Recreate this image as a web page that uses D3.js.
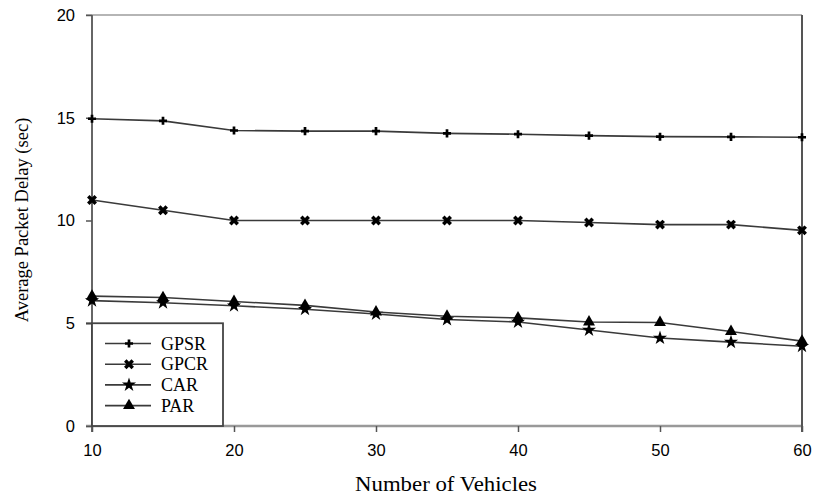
<html>
<head>
<title>Average Packet Delay</title>
<script src="https://d3js.org/d3.v7.min.js"></script>
<style>
body { margin: 0; background: white; }
svg { display: block; }
.tick-label { font-family: "Liberation Sans", Arial, sans-serif; font-size: 16.5px; fill: #000; }
.title { font-family: "Liberation Serif", "Times New Roman", serif; fill: #000; }
</style>
</head>
<body>
<svg id="chart" width="814" height="497"></svg>
<script>
// data
var vehicles = [10, 15, 20, 25, 30, 35, 40, 45, 50, 55, 60];
var gpsr = [14.95, 14.85, 14.38, 14.35, 14.35, 14.24, 14.2, 14.13, 14.08, 14.07, 14.05];
var gpcr = [11.0, 10.5, 10.0, 10.0, 10.0, 10.0, 10.0, 9.9, 9.8, 9.8, 9.52];
var car = [6.1, 6.0, 5.85, 5.68, 5.45, 5.18, 5.06, 4.67, 4.28, 4.08, 3.88];
var par = [6.32, 6.25, 6.06, 5.87, 5.55, 5.34, 5.26, 5.06, 5.04, 4.6, 4.13];
var seriesNames = ["GPSR", "GPCR", "CAR", "PAR"];
var xTicks = [10, 20, 30, 40, 50, 60];
var yTicks = [0, 5, 10, 15, 20];

var allSeries = [gpsr, gpcr, car, par];
var symbols = [
  { type: d3.symbolCross, size: 36, rot: 0 },
  { type: d3.symbolCross, size: 62, rot: 45 },
  { type: d3.symbolStar, size: 62, rot: 0 },
  { type: d3.symbolTriangle, size: 62, rot: 0 }
];

var svg = d3.select("#chart");
var x = d3.scaleLinear().domain([10, 60]).range([92, 802]);
var y = d3.scaleLinear().domain([0, 20]).range([426, 15]);

// frame lines
svg.append("line").attr("x1", 86).attr("x2", 802).attr("y1", y(20)).attr("y2", y(20))
  .attr("stroke", "#b5b5b5").attr("stroke-width", 2);
svg.append("line").attr("x1", 86).attr("x2", 802).attr("y1", y(0)).attr("y2", y(0))
  .attr("stroke", "#999").attr("stroke-width", 2.5);
svg.append("line").attr("x1", x(60)).attr("x2", x(60)).attr("y1", y(20)).attr("y2", y(0) + 6)
  .attr("stroke", "#555").attr("stroke-width", 2);
svg.append("line").attr("x1", x(10)).attr("x2", x(10)).attr("y1", y(20)).attr("y2", y(0) + 6)
  .attr("stroke", "#666").attr("stroke-width", 2);

// y axis
var yAxis = svg.append("g").attr("transform", "translate(" + x(10) + ",0)")
  .call(d3.axisLeft(y).tickValues(yTicks).tickSize(6).tickPadding(11));
yAxis.select(".domain").remove();
yAxis.selectAll(".tick line").attr("stroke", "#555").attr("stroke-width", 1.5);
yAxis.selectAll(".tick text").attr("class", "tick-label").attr("font-size", null).attr("font-family", null);

// x axis
var xAxis = svg.append("g").attr("transform", "translate(0," + y(0) + ")")
  .call(d3.axisBottom(x).tickValues(xTicks).tickSize(6).tickPadding(12));
xAxis.select(".domain").remove();
xAxis.selectAll(".tick line").attr("stroke", "#555").attr("stroke-width", 1.5);
xAxis.selectAll(".tick text").attr("class", "tick-label").attr("font-size", null).attr("font-family", null);

// series lines and markers
var line = d3.line().x(function (d, i) { return x(vehicles[i]); }).y(function (d) { return y(d); });
allSeries.forEach(function (s, k) {
  svg.append("path").datum(s).attr("d", line)
    .attr("fill", "none").attr("stroke", "#3a3a3a").attr("stroke-width", 1.6);
  svg.append("g").selectAll("path").data(s).enter().append("path")
    .attr("d", d3.symbol().type(symbols[k].type).size(symbols[k].size))
    .attr("transform", function (d, i) {
      return "translate(" + x(vehicles[i]) + "," + y(d) + ") rotate(" + symbols[k].rot + ")";
    })
    .attr("fill", "#000");
});

// legend
var legend = svg.append("g");
legend.append("rect").attr("x", x(10)).attr("y", y(5)).attr("width", 131).attr("height", y(0) - y(5))
  .attr("fill", "white").attr("stroke", "#444").attr("stroke-width", 1.8);
legend.append("line").attr("x1", 86).attr("x2", x(10)).attr("y1", y(5)).attr("y2", y(5))
  .attr("stroke", "#444").attr("stroke-width", 1.8);
seriesNames.forEach(function (name, k) {
  var ly = 343.5 + k * 20.7;
  legend.append("line").attr("x1", 105).attr("x2", 151).attr("y1", ly).attr("y2", ly)
    .attr("stroke", "#3a3a3a").attr("stroke-width", 1.6);
  legend.append("path")
    .attr("d", d3.symbol().type(symbols[k].type).size(symbols[k].size))
    .attr("transform", "translate(129," + ly + ") rotate(" + symbols[k].rot + ")")
    .attr("fill", "#000");
  legend.append("text").attr("class", "title").attr("x", 161).attr("y", ly + 6)
    .attr("font-size", 18).text(name);
});

// axis titles
svg.append("text").attr("class", "title")
  .attr("transform", "translate(28,220) rotate(-90)")
  .attr("text-anchor", "middle").attr("font-size", 18.5)
  .text("Average Packet Delay (sec)");
svg.append("text").attr("class", "title")
  .attr("x", 355).attr("y", 491)
  .attr("font-size", 20)
  .attr("textLength", 182).attr("lengthAdjust", "spacingAndGlyphs")
  .text("Number of Vehicles");
</script>
</body>
</html>
